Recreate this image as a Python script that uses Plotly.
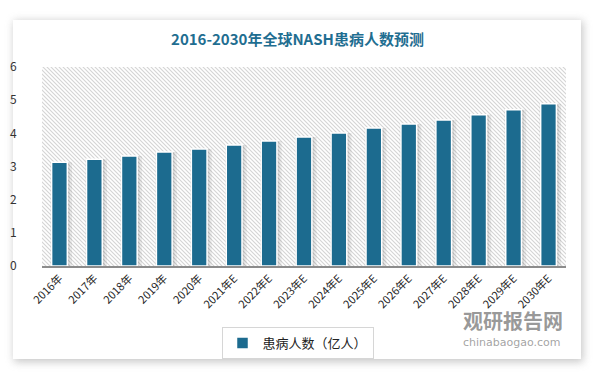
import base64
import plotly.graph_objects as go

years = ["2016年", "2017年", "2018年", "2019年", "2020年", "2021年E", "2022年E", "2023年E",
         "2024年E", "2025年E", "2026年E", "2027年E", "2028年E", "2029年E", "2030年E"]
patients = [3.13, 3.22, 3.32, 3.44, 3.53, 3.65, 3.77, 3.89, 4.01, 4.16, 4.28, 4.40, 4.56, 4.71, 4.89]
y_ticks = [0, 1, 2, 3, 4, 5, 6]
series_name = "患病人数（亿人）"
title_text = "2016-2030年全球NASH患病人数预测"

W, H = 595, 372
L, R, T, B = 42, 29, 67, 106
PW, PH = W - L - R, H - T - B

BAR = "#1c6b8f"
FONT = "Noto Sans CJK SC"

svg = f'''<svg xmlns="http://www.w3.org/2000/svg" width="{W}" height="{H}" viewBox="0 0 {W} {H}">
<defs>
<pattern id="p" width="4" height="4" patternUnits="userSpaceOnUse">
<rect width="4" height="4" fill="#ffffff"/>
<path d="M-1,-1 L5,5 M-1,3 L1,5 M3,-1 L5,1" stroke="#d4d4d4" stroke-width="1.1"/>
</pattern>
<filter id="s" x="-10%" y="-10%" width="120%" height="120%">
<feGaussianBlur stdDeviation="4"/>
</filter>
</defs>
<rect width="{W}" height="{H}" fill="#ffffff"/>
<rect x="14" y="21" width="569" height="341" fill="#9a9a9a" opacity="0.55" filter="url(#s)"/>
<rect x="13" y="20" width="568" height="339" fill="#ffffff"/>
<rect x="{L}" y="{T}" width="{PW}" height="{PH}" fill="url(#p)"/>
</svg>'''
src = "data:image/svg+xml;base64," + base64.b64encode(svg.encode()).decode()

fig = go.Figure()
fig.add_trace(go.Bar(x=years, y=patients, width=0.62, offset=-0.26,
                     marker=dict(color="rgba(0,0,0,0.07)", line=dict(width=0)),
                     showlegend=False, hoverinfo="skip"))
fig.add_trace(go.Bar(x=years, y=patients, width=0.53, offset=-0.235,
                     marker=dict(color="rgba(0,0,0,0.08)", line=dict(width=0)),
                     showlegend=False, hoverinfo="skip"))
fig.add_trace(go.Bar(x=years, y=patients, name=series_name, width=0.45, offset=-0.225,
                     marker=dict(color=BAR, line=dict(color="#ffffff", width=1.5))))

fig.update_layout(
    width=W, height=H,
    margin=dict(l=L, r=R, t=T, b=B, autoexpand=False),
    paper_bgcolor="#ffffff",
    plot_bgcolor="rgba(0,0,0,0)",
    barmode="overlay",
    font=dict(family=FONT, color="#333333", size=11),
    title=dict(text=f"<b>{title_text}</b>", x=0.5, xanchor="center",
               y=1 - 40 / H, yanchor="middle",
               font=dict(family=FONT, size=15, color="#1f6e91")),
    legend=dict(orientation="h", x=(W / 2 - L) / PW, xanchor="center",
                y=(T + PH - 327) / PH, yanchor="top",
                bordercolor="#d6d6d6", borderwidth=1, bgcolor="#ffffff",
                font=dict(family=FONT, size=13, color="#222222")),
    images=[dict(source=src, xref="paper", yref="paper",
                 x=-L / PW, y=1 + T / PH, sizex=W / PW, sizey=H / PH,
                 xanchor="left", yanchor="top", sizing="stretch", layer="below")],
    showlegend=True,
)
fig.update_xaxes(type="category", tickangle=-45, showgrid=False, ticks="",
                 automargin=False,
                 showline=True, linecolor="#8c8c8c", linewidth=1.5,
                 tickfont=dict(family=FONT, size=11, color="#262626"))
fig.update_yaxes(range=[0, 6], tickvals=y_ticks, showgrid=False, zeroline=False,
                 automargin=False,
                 showline=False, ticks="outside", ticklen=22, tickcolor="rgba(0,0,0,0)",
                 tickfont=dict(family=FONT, size=12, color="#333333"))

fig.add_annotation(text="<b>观研报告网</b>", xref="paper", yref="paper",
                   x=(513 - L) / PW, y=(T + PH - 320) / PH, showarrow=False,
                   xanchor="center", yanchor="middle",
                   font=dict(family=FONT, size=20, color="rgba(120,120,120,0.75)"))
fig.add_annotation(text="chinabaogao.com", xref="paper", yref="paper",
                   x=(512 - L) / PW, y=(T + PH - 342) / PH, showarrow=False,
                   xanchor="center", yanchor="middle",
                   font=dict(family="DejaVu Sans", size=11, color="rgba(140,140,140,0.8)"))

fig.write_html("out.html", config={"displayModeBar": False},
               post_script="document.body.style.margin='0';document.body.style.padding='0';")
